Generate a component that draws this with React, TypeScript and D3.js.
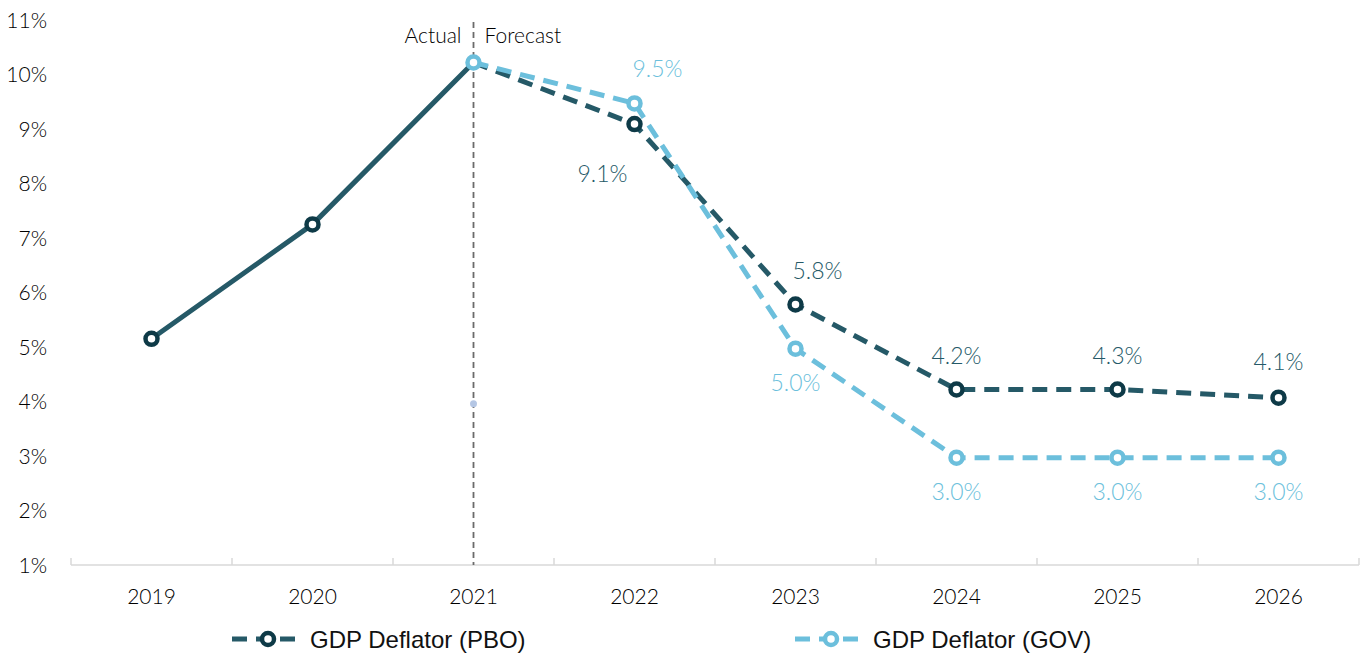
import React from "react";
import * as d3 from "d3";

const years = ["2019", "2020", "2021", "2022", "2023", "2024", "2025", "2026"];
const yTicks = [1, 2, 3, 4, 5, 6, 7, 8, 9, 10, 11];

// actual (solid) part
const actualYears = ["2019", "2020", "2021"];
const actualValues = [5.15, 7.25, 10.22];

// forecasts
const forecastYears = ["2021", "2022", "2023", "2024", "2025", "2026"];
const pboValues = [10.22, 9.09, 5.78, 4.22, 4.22, 4.07];
const pboLabels = ["", "9.1%", "5.8%", "4.2%", "4.3%", "4.1%"];
const govValues = [10.22, 9.47, 4.97, 2.97, 2.97, 2.97];
const govLabels = ["", "9.5%", "5.0%", "3.0%", "3.0%", "3.0%"];

// stray point at 2021
const strayValue = 3.96;

const W = 1370,
  H = 656;
const PBO = "#255967";
const PBO_DARK = "#0e3a47";
const GOV = "#6cbfdc";
const FONT = "Lato, 'Open Sans', sans-serif";
const LEGEND_FONT = "'Liberation Sans', Arial, sans-serif";

export default function App() {
  const x = d3.scaleBand().domain(years).range([71, 1359]);
  const cx = (d: string) => x(d)! + x.bandwidth() / 2;
  const y = d3.scaleLinear().domain([1, 11]).range([565, 20]);

  const line = d3
    .line<[string, number]>()
    .x(d => cx(d[0]))
    .y(d => y(d[1]));

  const actual = actualYears.map((d, i) => [d, actualValues[i]] as [string, number]);
  const pbo = forecastYears.map((d, i) => [d, pboValues[i]] as [string, number]);
  const gov = forecastYears.map((d, i) => [d, govValues[i]] as [string, number]);

  // label offsets: [dx, dy] per point, relative to marker
  const pboOff = [[0, 0], [-32, 50], [22, -34], [0, -34], [0, -34], [0, -36]];
  const govOff = [[0, 0], [23, -35], [0, 34], [0, 34], [0, 34], [0, 34]];

  const marker = (key: string, px: number, py: number, stroke: string) => (
    <circle key={key} cx={px} cy={py} r={6} fill="#fff" stroke={stroke} strokeWidth={4.5} />
  );

  return (
    <svg width={W} height={H} style={{ position: "absolute", left: 0, top: 0 }}>
      <rect width={W} height={H} fill="#fff" />
      {/* y tick labels */}
      {yTicks.map(t => (
        <text key={t} x={47} y={y(t)} dy="0.36em" textAnchor="end" fontFamily={FONT} fontWeight={300} fontSize={21} fill="#000">
          {t}%
        </text>
      ))}
      {/* x axis */}
      <line x1={71} x2={1359} y1={565} y2={565} stroke="#d9d9d9" strokeWidth={1.5} />
      {years.map(d => (
        <line key={"t" + d} x1={x(d)!} x2={x(d)!} y1={558} y2={565} stroke="#d9d9d9" strokeWidth={1.5} />
      ))}
      <line x1={1359} x2={1359} y1={558} y2={565} stroke="#d9d9d9" strokeWidth={1.5} />
      {years.map(d => (
        <text key={"l" + d} x={cx(d)} y={596} dy="0.36em" textAnchor="middle" fontFamily={FONT} fontWeight={300} fontSize={21} fill="#000">
          {d}
        </text>
      ))}
      {/* actual / forecast divider */}
      <line x1={cx("2021")} x2={cx("2021")} y1={22} y2={565} stroke="#6b6b6b" strokeWidth={1.8} strokeDasharray="6 4" />
      <text x={cx("2021") - 12} y={35} dy="0.36em" textAnchor="end" fontFamily={FONT} fontWeight={300} fontSize={21} fill="#000">
        Actual
      </text>
      <text x={cx("2021") + 11} y={35} dy="0.36em" textAnchor="start" fontFamily={FONT} fontWeight={300} fontSize={21} fill="#000">
        Forecast
      </text>
      <circle cx={cx("2021")} cy={y(strayValue)} r={3.5} fill="#b4c6e4" />
      {/* lines */}
      <path d={line(actual)!} fill="none" stroke={PBO} strokeWidth={5} strokeLinejoin="round" />
      <path d={line(pbo)!} fill="none" stroke={PBO} strokeWidth={5} strokeDasharray="15 9" />
      <path d={line(gov)!} fill="none" stroke={GOV} strokeWidth={5} strokeDasharray="15 9" />
      {/* markers */}
      {actual.slice(0, 2).map(d => marker("a" + d[0], cx(d[0]), y(d[1]), PBO_DARK))}
      {pbo.slice(1).map(d => marker("p" + d[0], cx(d[0]), y(d[1]), PBO_DARK))}
      {gov.map(d => marker("g" + d[0], cx(d[0]), y(d[1]), GOV))}
      {/* data labels */}
      {pbo.map((d, i) =>
        pboLabels[i] ? (
          <text key={"pl" + i} x={cx(d[0]) + pboOff[i][0]} y={y(d[1]) + pboOff[i][1]} dy="0.36em" textAnchor="middle" fontFamily={FONT} fontWeight={300} fontSize={23} fill={PBO}>
            {pboLabels[i]}
          </text>
        ) : null
      )}
      {gov.map((d, i) =>
        govLabels[i] ? (
          <text key={"gl" + i} x={cx(d[0]) + govOff[i][0]} y={y(d[1]) + govOff[i][1]} dy="0.36em" textAnchor="middle" fontFamily={FONT} fontWeight={300} fontSize={23} fill={GOV}>
            {govLabels[i]}
          </text>
        ) : null
      )}
      {/* legend */}
      <g transform="translate(232,639)">
        <line x1={0} x2={64} stroke={PBO} strokeWidth={5} strokeDasharray="15 9" />
        <circle cx={36} r={6} fill="#fff" stroke={PBO_DARK} strokeWidth={4.5} />
        <text x={78} dy="0.36em" fontFamily={LEGEND_FONT} fontSize={24} fill="#111">
          GDP Deflator (PBO)
        </text>
      </g>
      <g transform="translate(795,639)">
        <line x1={0} x2={64} stroke={GOV} strokeWidth={5} strokeDasharray="15 9" />
        <circle cx={36} r={6} fill="#fff" stroke={GOV} strokeWidth={4.5} />
        <text x={78} dy="0.36em" fontFamily={LEGEND_FONT} fontSize={24} fill="#111">
          GDP Deflator (GOV)
        </text>
      </g>
    </svg>
  );
}
